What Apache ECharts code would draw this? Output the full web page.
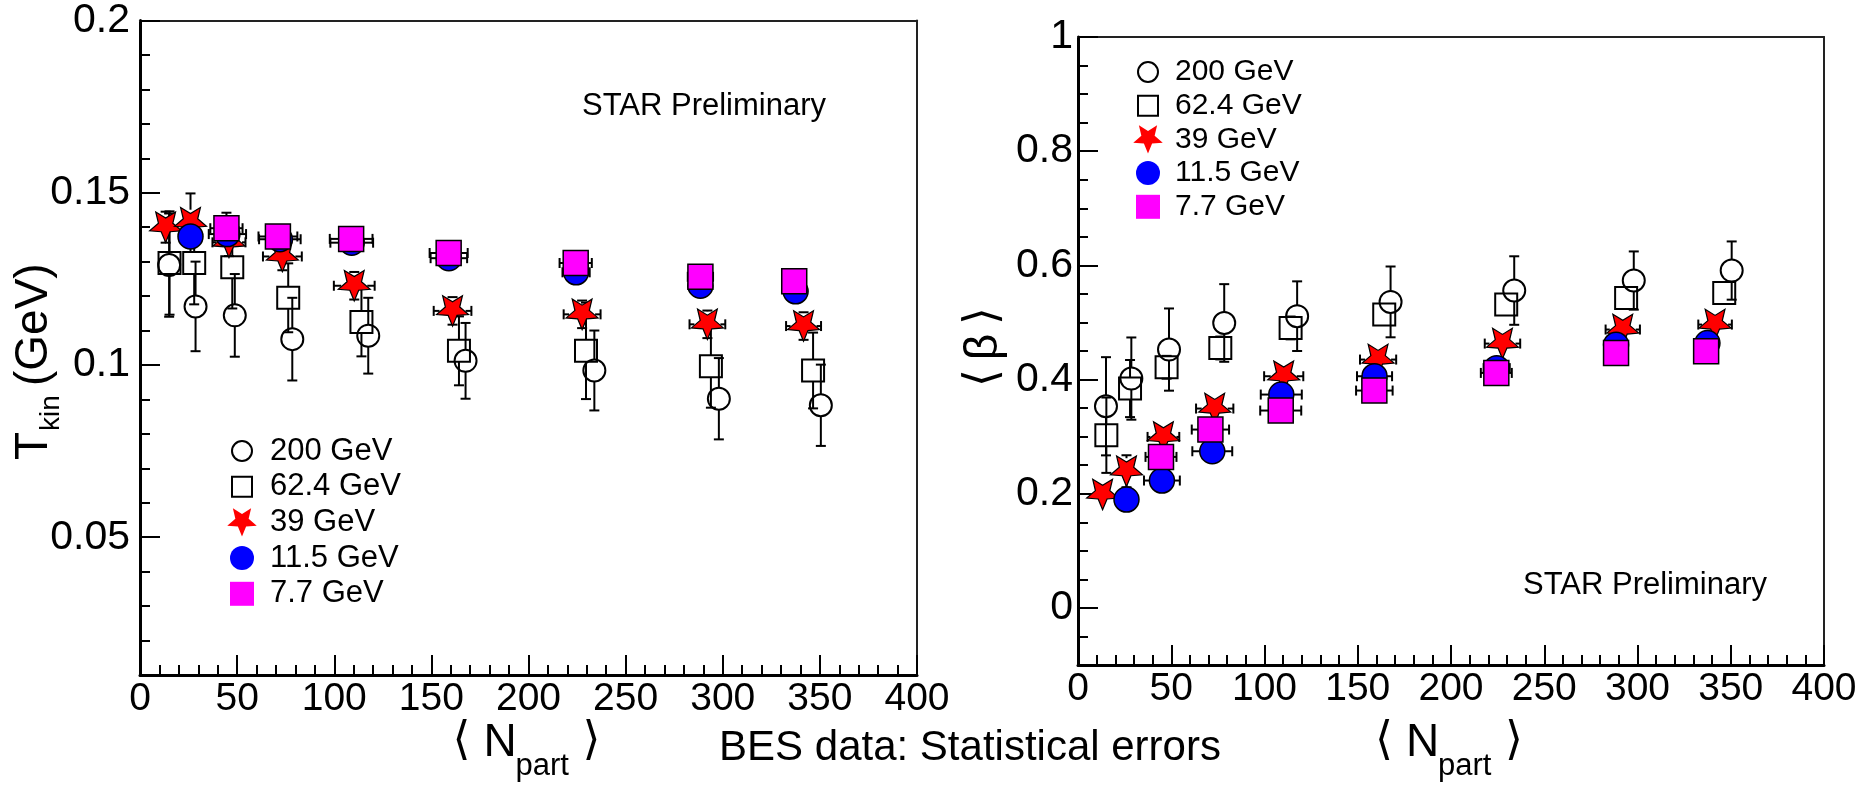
<!DOCTYPE html>
<html>
<head>
<meta charset="utf-8">
<script src="https://cdn.jsdelivr.net/npm/echarts@6/dist/echarts.min.js"></script>
<style>
  html, body { margin: 0; padding: 0; background: #fff; }
  #chart { width: 1875px; height: 785px; }
</style>
</head>
<body>
<div id="chart"></div>
<script>
// Collision energies (legend order, also drawing order)
const energies = ['200 GeV', '62.4 GeV', '39 GeV', '11.5 GeV', '7.7 GeV'];

// Mean number of participants per centrality bin
const npart200 = [15, 28.6, 48.8, 78.4, 117.5, 167.6, 233.9, 298, 350.5];
const npart62 = [15.2, 27.9, 47.5, 76.3, 114, 164.2, 229.6, 293.9, 346.5];
const npart39 = [13.2, 26, 45.8, 73.3, 110.3, 160.9, 227.6, 292.1, 341.6];
const npart11 = [26, 45, 72, 109, 159, 224.5, 288.5, 337.5];
const npart7 = [44.5, 71, 108.7, 158.9, 224.3, 288.5, 336.8];

// Uncertainty on <Npart>
const npartErr200 = [0, 0, 0, 0, 0, 0, 0, 0, 0];
const npartErr62 = [0, 0, 0, 0, 0, 0, 0, 0, 0];
const npartErr39 = [5, 6, 8.5, 10, 10.5, 9.7, 9.5, 9.2, 9];
const npartErr11 = [6.3, 9.6, 10.7, 11, 9.4, 7, 6, 6];
const npartErr7 = [8.3, 10, 11, 9.8, 8.3, 6.5, 6];

// Kinetic freeze-out temperature T_kin (GeV)
const tkin200 = [0.129, 0.117, 0.1144, 0.1075, 0.1085, 0.1012, 0.0984, 0.0902, 0.0883];
const tkinErr200 = [0.015, 0.013, 0.012, 0.012, 0.011, 0.011, 0.0116, 0.0118, 0.0118];
const tkin62 = [0.1296, 0.1296, 0.1284, 0.1195, 0.1125, 0.1041, 0.1041, 0.0996, 0.0984];
const tkinErr62 = [0.015, 0.012, 0.012, 0.01, 0.01, 0.01, 0.014, 0.012, 0.011];
const tkin39 = [0.140, 0.1413, 0.1356, 0.1315, 0.123, 0.1157, 0.1147, 0.1118, 0.1113];
const tkinErr39 = [0.0045, 0.0085, 0.004, 0.004, 0.004, 0.004, 0.004, 0.004, 0.004];
const tkin11 = [0.1373, 0.138, 0.1365, 0.1355, 0.131, 0.1269, 0.123, 0.1214];
const tkinErr11 = [0.003, 0.003, 0.003, 0.003, 0.003, 0.003, 0.003, 0.003];
const tkin7 = [0.1397, 0.1373, 0.1366, 0.1325, 0.1296, 0.1256, 0.1243];
const tkinErr7 = [0.0045, 0.003, 0.003, 0.003, 0.003, 0.003, 0.003];

// Average radial flow velocity <beta>
const beta200 = [0.3532, 0.4017, 0.4525, 0.4991, 0.511, 0.536, 0.5559, 0.5734, 0.5909];
const betaErr200 = [0.086, 0.072, 0.072, 0.068, 0.061, 0.062, 0.06, 0.051, 0.051];
const beta62 = [0.3025, 0.3842, 0.4215, 0.4553, 0.4904, 0.5138, 0.5313, 0.543, 0.5517];
const betaErr62 = [0.066, 0.05, 0.02, 0.02, 0.02, 0.015, 0.015, 0.012, 0.012];
const beta39 = [0.1986, 0.2394, 0.2995, 0.3492, 0.4058, 0.435, 0.463, 0.4876, 0.4963];
const betaErr39 = [0.012, 0.028, 0.012, 0.012, 0.012, 0.012, 0.01, 0.01, 0.01];
const beta11 = [0.1898, 0.2231, 0.2744, 0.3737, 0.4058, 0.420, 0.461, 0.464];
const betaErr11 = [0.01, 0.01, 0.01, 0.01, 0.01, 0.01, 0.01, 0.01];
const beta7 = [0.2645, 0.3124, 0.3457, 0.3807, 0.4116, 0.4466, 0.4496];
const betaErr7 = [0.012, 0.012, 0.012, 0.012, 0.012, 0.012, 0.012];

// Axis ranges and tick labels
const npartRange = [0, 400];
const npartStep = 50;
const tkinRange = [0.01, 0.2];
const tkinTicks = [0.05, 0.1, 0.15, 0.2];
const tkinMinorStep = 0.01;
const betaRange = [-0.1, 1];
const betaTicks = [0, 0.2, 0.4, 0.6, 0.8, 1];
const betaMinorStep = 0.05;

const FONT = "'Liberation Sans', Arial, Helvetica, sans-serif";
const MATH = "'DejaVu Sans', sans-serif";

function starPath(inner) {
  const pts = [];
  for (let k = 0; k < 10; k++) {
    const a = Math.PI / 2 + k * Math.PI / 5;
    const r = k % 2 ? inner : 1;
    pts.push((r * Math.cos(a)).toFixed(4) + ' ' + (r * Math.sin(a)).toFixed(4));
  }
  return 'path://M' + pts.join(' L') + ' Z';
}
function starPoints(cx, cy, R, inner) {
  const pts = [];
  for (let k = 0; k < 10; k++) {
    const a = Math.PI / 2 + k * Math.PI / 5;
    const r = (k % 2 ? inner : 1) * R;
    pts.push([cx + r * Math.cos(a), cy + r * Math.sin(a)]);
  }
  return pts;
}
const STAR = starPath(0.45);

// Marker styles for each energy
const markers = [
  { symbol: 'circle', size: 22, gap: 11, style: { color: 'rgba(0,0,0,0)', borderColor: '#000', borderWidth: 2, opacity: 1 } },
  { symbol: 'rect', size: 22, gap: 11, style: { color: 'rgba(0,0,0,0)', borderColor: '#000', borderWidth: 2, opacity: 1 } },
  { symbol: STAR, size: [32, 30.4], gap: 13, style: { color: '#ff0000', borderColor: '#000', borderWidth: 1.2, opacity: 1 } },
  { symbol: 'circle', size: 25, gap: 12.5, style: { color: '#0000ff', borderColor: '#000', borderWidth: 1.5, opacity: 1 } },
  { symbol: 'rect', size: 25, gap: 12.5, style: { color: '#ff00ff', borderColor: '#000', borderWidth: 1.5, opacity: 1 } }
];

const panels = [
  {
    npart: [npart200, npart62, npart39, npart11, npart7],
    npartErr: [npartErr200, npartErr62, npartErr39, npartErr11, npartErr7],
    vals: [tkin200, tkin62, tkin39, tkin11, tkin7],
    errs: [tkinErr200, tkinErr62, tkinErr39, tkinErr11, tkinErr7]
  },
  {
    npart: [npart200, npart62, npart39, npart11, npart7],
    npartErr: [npartErr200, npartErr62, npartErr39, npartErr11, npartErr7],
    vals: [beta200, beta62, beta39, beta11, beta7],
    errs: [betaErr200, betaErr62, betaErr39, betaErr11, betaErr7]
  }
];

function minorValues(range, step, majors) {
  const out = [];
  const n = Math.round((range[1] - range[0]) / step);
  for (let i = 0; i <= n; i++) {
    const v = +(range[0] + i * step).toFixed(6);
    if (!majors.some(m => Math.abs(m - v) < 1e-9)) out.push(v);
  }
  return out;
}

const CAP = 5;
function errorBarRenderer(gap) {
  return function (params, api) {
    const x = api.value(0), y = api.value(1), ex = api.value(2), ey = api.value(3);
    const c = api.coord([x, y]);
    const children = [];
    const st = { stroke: '#000', lineWidth: 2 };
    const line = (x1, y1, x2, y2) => children.push({ type: 'line', shape: { x1, y1, x2, y2 }, style: st });
    if (ey > 0) {
      const t = api.coord([x, y + ey])[1];
      const b = api.coord([x, y - ey])[1];
      if (c[1] - t > gap) { line(c[0], c[1] - gap, c[0], t); line(c[0] - CAP, t, c[0] + CAP, t); }
      if (b - c[1] > gap) { line(c[0], c[1] + gap, c[0], b); line(c[0] - CAP, b, c[0] + CAP, b); }
    }
    if (ex > 0) {
      const l = api.coord([x - ex, y])[0];
      const r = api.coord([x + ex, y])[0];
      if (c[0] - l > gap) { line(c[0] - gap, c[1], l, c[1]); line(l, c[1] - CAP, l, c[1] + CAP); }
      if (r - c[0] > gap) { line(c[0] + gap, c[1], r, c[1]); line(r, c[1] - CAP, r, c[1] + CAP); }
    }
    return { type: 'group', children };
  };
}

const series = [];
panels.forEach((p, pi) => {
  energies.forEach((name, ei) => {
    const m = markers[ei];
    const xs = p.npart[ei];
    series.push({
      type: 'custom',
      name: name,
      xAxisIndex: pi * 2,
      yAxisIndex: pi * 3,
      renderItem: errorBarRenderer(m.gap),
      encode: { x: 0, y: 1 },
      clip: false,
      silent: true,
      data: xs.map((x, i) => [x, p.vals[ei][i], p.npartErr[ei][i], p.errs[ei][i]])
    });
    series.push({
      type: 'scatter',
      name: name,
      xAxisIndex: pi * 2,
      yAxisIndex: pi * 3,
      symbol: m.symbol,
      symbolSize: m.size,
      itemStyle: m.style,
      emphasis: { disabled: true },
      silent: true,
      data: xs.map((x, i) => [x, p.vals[ei][i]])
    });
  });
});

const axisLineMain = { show: true, onZero: false, lineStyle: { color: '#000', width: 3 } };
const axisLineFrame = { show: true, onZero: false, lineStyle: { color: '#222', width: 2 } };
const xLabelFont = { color: '#000', fontFamily: FONT, fontSize: 39 };
const yLabelFont = { color: '#000', fontFamily: FONT, fontSize: 41 };

function xAxes(gridIndex) {
  return [
    {
      type: 'value', gridIndex, min: npartRange[0], max: npartRange[1], interval: npartStep,
      position: 'bottom',
      axisLine: axisLineMain,
      axisTick: { show: true, inside: true, length: 20, lineStyle: { color: '#000', width: 2 } },
      minorTick: { show: true, splitNumber: 5, length: 10, lineStyle: { color: '#000', width: 2 } },
      axisLabel: Object.assign({ margin: 5 }, xLabelFont),
      splitLine: { show: false }
    },
    {
      type: 'value', gridIndex, min: npartRange[0], max: npartRange[1], position: 'top',
      axisLine: axisLineFrame, axisTick: { show: false }, axisLabel: { show: false }, splitLine: { show: false }
    }
  ];
}
function yAxes(gridIndex, range, ticks, minorStep, labelMargin) {
  return [
    {
      type: 'value', gridIndex, min: range[0], max: range[1], position: 'left',
      axisLine: axisLineMain,
      axisTick: { show: true, inside: true, length: 20, customValues: ticks, lineStyle: { color: '#000', width: 2 } },
      axisLabel: Object.assign({ margin: labelMargin, customValues: ticks, showMinLabel: true, showMaxLabel: true }, yLabelFont),
      splitLine: { show: false }
    },
    {
      type: 'value', gridIndex, min: range[0], max: range[1], position: 'left', offset: 0,
      axisLine: { show: false },
      axisTick: { show: true, inside: true, length: 10, customValues: minorValues(range, minorStep, ticks), lineStyle: { color: '#000', width: 2 } },
      axisLabel: { show: false },
      splitLine: { show: false }
    },
    {
      type: 'value', gridIndex, min: range[0], max: range[1], position: 'right',
      axisLine: axisLineFrame, axisTick: { show: false }, axisLabel: { show: false }, splitLine: { show: false }
    }
  ];
}

// Legends built from the energy list
function legendGroup(x0, y0, step, textX, fontSize) {
  const children = [];
  energies.forEach((name, i) => {
    const cy = y0 + i * step;
    let shape;
    if (i === 0) shape = { type: 'circle', shape: { cx: x0, cy, r: 10 }, style: { fill: 'none', stroke: '#000', lineWidth: 2 } };
    else if (i === 1) shape = { type: 'rect', shape: { x: x0 - 10, y: cy - 10, width: 20, height: 20 }, style: { fill: 'none', stroke: '#000', lineWidth: 2 } };
    else if (i === 2) shape = { type: 'polygon', shape: { points: starPoints(x0, cy - 1.5, 15.5, 0.45) }, style: { fill: '#ff0000' } };
    else if (i === 3) shape = { type: 'circle', shape: { cx: x0, cy, r: 12 }, style: { fill: '#0000ff' } };
    else shape = { type: 'rect', shape: { x: x0 - 12, y: cy - 12, width: 24, height: 24 }, style: { fill: '#ff00ff' } };
    children.push(shape);
    children.push({
      type: 'text', x: textX, y: cy,
      style: { text: name, fontFamily: FONT, fontSize, fill: '#000', align: 'left', verticalAlign: 'middle' }
    });
  });
  return { type: 'group', silent: true, children };
}

function plainText(text, x, y, size, align, family) {
  return { type: 'text', x, y, silent: true,
    style: { text, fontFamily: family || FONT, fontSize: size, fill: '#000', align: align || 'left', verticalAlign: 'middle' } };
}
function rotText(text, x, y, size, align, family) {
  const t = plainText(text, x, y, size, align, family);
  t.rotation = Math.PI / 2;
  return t;
}
// <N_part> axis title centred at cx
function npartTitle(cx) {
  return [
    plainText('⟨', cx - 67, 742, 46, 'center', MATH),
    plainText('N', cx - 45, 743, 46, 'left'),
    plainText('part', cx - 13, 766, 31, 'left'),
    plainText('⟩', cx + 63, 742, 46, 'center', MATH)
  ];
}

const gridL = { left: 140, top: 17, width: 777, height: 658 };
const gridR = { left: 1078, top: 37, width: 746, height: 628 };

const option = {
  animation: false,
  backgroundColor: '#fff',
  grid: [
    Object.assign({ containLabel: false }, gridL),
    Object.assign({ containLabel: false }, gridR)
  ],
  xAxis: [...xAxes(0), ...xAxes(1)],
  yAxis: [
    ...yAxes(0, tkinRange, tkinTicks, tkinMinorStep, 10),
    ...yAxes(1, betaRange, betaTicks, betaMinorStep, 5)
  ],
  series,
  graphic: [
    legendGroup(242, 451, 35.7, 270, 31),
    legendGroup(1148, 72, 33.7, 1175, 30),
    plainText('STAR Preliminary', 582, 106, 31),
    plainText('STAR Preliminary', 1523, 585, 31),
    plainText('BES data: Statistical errors', 970, 748, 42, 'center'),
    ...npartTitle(gridL.left + gridL.width / 2),
    ...npartTitle(gridR.left + gridR.width / 2),
    // T_kin (GeV)
    rotText('T', 34, 460, 46, 'left'),
    rotText('kin', 51, 431, 28, 'left'),
    rotText('(GeV)', 34, 386, 46, 'left'),
    // <beta>
    rotText('⟨', 984, 378, 46, 'center', MATH),
    rotText('β', 984, 347, 46, 'center'),
    rotText('⟩', 984, 316, 46, 'center', MATH)
  ]
};

const chart = echarts.init(document.getElementById('chart'), null, { renderer: 'canvas' });
chart.setOption(option);
</script>
</body>
</html>
